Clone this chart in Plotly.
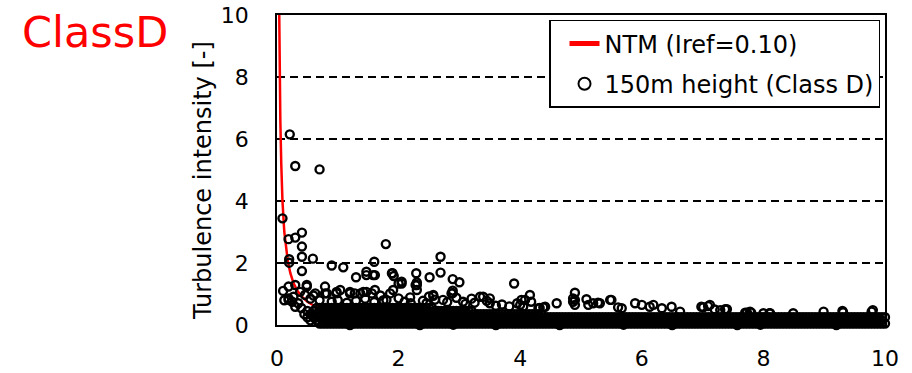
import plotly.graph_objects as go

# ---------------- data ----------------
# NTM curve (red line)
ntm_speed = [0.037, 0.045, 0.055, 0.07, 0.09, 0.12, 0.15, 0.18, 0.22, 0.27, 0.33, 0.4, 0.5, 0.6, 0.75,
             1.0, 1.3, 1.7, 2.2, 3.0, 4.0, 5.0, 6.0, 7.0, 8.0, 9.0, 10.0]
ntm_ti = [10.0, 8.0, 6.6, 5.2, 4.0, 3.0, 2.43, 2.03, 1.67, 1.36, 1.12, 0.93, 0.75, 0.63, 0.51,
          0.39, 0.31, 0.24, 0.19, 0.15, 0.12, 0.10, 0.09, 0.08, 0.075, 0.07, 0.066]

# individually visible measurement points
outlier_speed = [0.21, 0.30, 0.70, 0.09, 0.19, 0.30, 0.41, 0.41, 0.41, 0.20, 0.20, 0.59, 0.41, 0.90, 1.09,
                 1.79, 1.60, 1.47, 1.58, 1.30, 1.90, 1.92, 2.00, 2.29, 2.30, 2.30, 2.51, 2.69, 2.69, 2.89,
                 3.00, 2.89, 2.89, 3.90, 3.39, 3.50, 2.57, 2.19, 1.80, 1.47, 1.37, 1.20, 0.98, 0.79, 0.49,
                 0.19, 0.19, 0.30, 0.27, 0.38, 0.82, 4.16, 4.08, 4.90, 4.87, 4.87, 5.09, 5.28, 5.12, 5.48,
                 5.89, 6.19, 6.49, 7.01, 7.12, 4.60, 4.38, 4.32, 5.61, 7.20, 2.30, 2.57, 2.87, 4.02, 7.37,
                 7.73, 8.00, 7.78, 8.11, 8.49, 8.99, 9.30, 9.80, 0.19, 0.30, 0.49, 0.46, 0.63, 0.79, 0.98,
                 1.04, 1.20, 1.28, 1.42, 1.56, 1.61, 1.86, 1.91, 2.00, 1.47, 1.61, 1.89, 2.05, 0.10, 0.12,
                 2.05, 2.28, 3.34, 3.50, 3.82, 4.00, 4.18, 3.06, 2.73, 2.46, 4.30, 4.41, 4.90, 4.90, 5.20,
                 5.31, 5.50, 5.67, 6.00, 6.13, 6.33, 6.63, 6.98, 7.09, 7.29, 7.40, 7.70, 7.80, 8.10, 9.31,
                 9.78,
                 0.90, 1.00, 1.15, 1.30, 1.45, 1.60, 1.75, 2.10, 2.20, 2.40, 2.60, 2.80, 3.10, 3.25, 3.60,
                 3.70, 4.05, 0.55, 0.60, 0.70, 0.35, 0.40, 0.25, 3.20, 3.45, 3.95, 2.95, 2.50, 1.70]
outlier_ti = [6.15, 5.13, 5.02, 3.44, 2.77, 2.82, 2.98, 2.53, 2.20, 2.12, 2.01, 2.14, 1.74, 1.92, 1.86,
              2.61, 2.04, 1.72, 1.61, 1.54, 1.67, 1.58, 1.34, 1.67, 1.37, 1.13, 1.54, 2.20, 1.69, 1.48,
              1.38, 1.11, 1.03, 1.34, 0.91, 0.86, 0.94, 0.89, 0.81, 1.07, 1.02, 1.02, 1.02, 1.24, 1.24,
              1.24, 0.86, 0.59, 0.91, 1.07, 1.02, 0.97, 0.81, 1.04, 0.86, 0.75, 0.83, 0.72, 0.65, 0.81,
              0.70, 0.65, 0.59, 0.57, 0.65, 0.70, 0.57, 0.55, 0.57, 0.50, 1.29, 0.97, 1.02, 0.81, 0.51,
              0.40, 0.38, 0.43, 0.38, 0.38, 0.43, 0.45, 0.48, 0.81, 1.29, 1.29, 0.97, 1.02, 1.02, 1.07,
              1.13, 1.07, 1.02, 1.07, 1.02, 1.13, 1.02, 1.13, 0.86, 1.61, 1.61, 1.67, 1.40, 1.10, 0.80,
              1.34, 1.29, 0.91, 0.70, 0.60, 0.65, 0.75, 0.75, 0.81, 0.70, 0.54, 0.59, 0.81, 0.65, 0.70,
              0.70, 0.81, 0.54, 0.65, 0.59, 0.54, 0.43, 0.59, 0.61, 0.48, 0.51, 0.40, 0.40, 0.38, 0.41,
              0.43,
              0.75, 0.80, 0.72, 0.78, 0.85, 0.74, 0.80, 0.75, 0.70, 0.78, 0.82, 0.74, 0.68, 0.72, 0.62,
              0.66, 0.60, 0.85, 0.95, 0.80, 0.70, 0.55, 0.75, 0.85, 0.78, 0.70, 0.88, 0.92, 0.95]

# points lying just on the axis (bumps below the dense band)
bottom_speed = [1.2, 2.35, 2.9, 3.6, 4.65, 5.7, 6.5, 7.57, 7.95, 9.2]
bottom_ti = [0.0, 0.0, 0.01, 0.0, 0.0, 0.01, 0.0, 0.0, 0.01, 0.0]

# dense band: measured points packed in rows (level -> speeds)
band_levels = [0.05, 0.05, 0.15, 0.25, 0.25, 0.35, 0.35, 0.45, 0.45, 0.55, 0.55]
band_row_speed = [
    [0.7, 0.8, 0.9, 1.0, 1.1, 1.2, 1.3, 1.4, 1.5, 1.6, 1.7, 1.8, 1.9, 2.0, 2.1, 2.2, 2.3, 2.4, 2.5, 2.6,
     2.7, 2.8, 2.9, 3.0, 3.1, 3.2, 3.3, 3.4, 3.5, 3.6, 3.7, 3.8, 3.9, 4.0, 4.1, 4.2, 4.3, 4.4, 4.5, 4.6,
     4.7, 4.8, 4.9, 5.0, 5.1, 5.2, 5.3, 5.4, 5.5, 5.6, 5.7, 5.8, 5.9, 6.0, 6.1, 6.2, 6.3, 6.4, 6.5, 6.6,
     6.7, 6.8, 6.9, 7.0, 7.1, 7.2, 7.3, 7.4, 7.5, 7.6, 7.7, 7.8, 7.9, 8.0, 8.1, 8.2, 8.3, 8.4, 8.5, 8.6,
     8.7, 8.8, 8.9, 9.0, 9.1, 9.2, 9.3, 9.4, 9.5, 9.6, 9.7, 9.8, 9.9, 10.0],
    [0.75, 0.85, 0.95, 1.05, 1.15, 1.25, 1.35, 1.45, 1.55, 1.65, 1.75, 1.85, 1.95, 2.05, 2.15,
     2.25, 2.35, 2.45, 2.55, 2.65, 2.75, 2.85, 2.95, 3.05, 3.15, 3.25, 3.35, 3.45, 3.55, 3.65, 3.75, 3.85,
     3.95, 4.05, 4.15, 4.25, 4.35, 4.45, 4.55, 4.65, 4.75, 4.85, 4.95, 5.05, 5.15, 5.25, 5.35, 5.45, 5.55,
     5.65, 5.75, 5.85, 5.95, 6.05, 6.15, 6.25, 6.35, 6.45, 6.55, 6.65, 6.75, 6.85, 6.95, 7.05, 7.15, 7.25,
     7.35, 7.45, 7.55, 7.65, 7.75, 7.85, 7.95, 8.05, 8.15, 8.25, 8.35, 8.45, 8.55, 8.65, 8.75, 8.85, 8.95,
     9.05, 9.15, 9.25, 9.35, 9.45, 9.55, 9.65, 9.75, 9.85, 9.95],
    [0.55, 0.65, 0.75, 0.85, 0.95, 1.05, 1.15, 1.25, 1.35, 1.45, 1.55, 1.65, 1.75, 1.85, 1.95, 2.05, 2.15,
     2.25, 2.35, 2.45, 2.55, 2.65, 2.75, 2.85, 2.95, 3.05, 3.15, 3.25, 3.35, 3.45, 3.55, 3.65, 3.75, 3.85,
     3.95, 4.05, 4.15, 4.25, 4.35, 4.45, 4.55, 4.65, 4.75, 4.85, 4.95, 5.05, 5.15, 5.25, 5.35, 5.45, 5.55,
     5.65, 5.75, 5.85, 5.95, 6.05, 6.15, 6.25, 6.35, 6.45, 6.55, 6.65, 6.75, 6.85, 6.95, 7.05, 7.15, 7.25,
     7.35, 7.45, 7.55, 7.65, 7.75, 7.85, 7.95, 8.05, 8.15, 8.25, 8.35, 8.45, 8.55, 8.65, 8.75, 8.85, 8.95,
     9.05, 9.15, 9.25, 9.35, 9.45, 9.55, 9.65, 9.75, 9.85, 9.95],
    [0.5, 0.6, 0.7, 0.8, 0.9, 1.0, 1.1, 1.2, 1.3, 1.4, 1.5, 1.6, 1.7, 1.8, 1.9, 2.0, 2.1, 2.2, 2.3, 2.4,
     2.5, 2.6, 2.7, 2.8, 2.9, 3.0, 3.1, 3.2, 3.3, 3.4, 3.5, 3.6, 3.7, 3.8, 3.9, 4.0, 4.1, 4.2, 4.3, 4.4,
     4.5, 4.6, 4.7, 4.8, 4.9, 5.0, 5.1, 5.2, 5.3, 5.4, 5.5, 5.6, 5.7, 5.8, 5.9, 6.0, 6.1, 6.2, 6.3, 6.4,
     6.5, 6.6, 6.7, 6.8, 6.9, 7.0, 7.1, 7.2, 7.3, 7.4, 7.5, 7.6, 7.7, 7.8, 7.9, 8.0, 8.1, 8.2, 8.3, 8.4,
     8.5, 8.6, 8.7, 8.8, 8.9, 9.0, 9.1, 9.2, 9.3, 9.4, 9.5, 9.6, 9.7, 9.8, 9.9, 10.0],
    [4.45, 4.55, 4.65, 4.75, 4.85, 4.95, 5.05, 5.15, 5.25, 5.35, 5.45, 5.55, 5.65, 5.75, 5.85, 5.95, 6.05,
     6.15, 6.25, 6.35, 6.45, 6.55, 6.65, 6.75, 6.85, 6.95, 7.05, 7.15, 7.25, 7.35, 7.45, 7.55, 7.65, 7.75,
     7.85, 7.95, 8.05, 8.15, 8.25, 8.35, 8.45, 8.55, 8.65, 8.75, 8.85, 8.95, 9.05, 9.15, 9.25, 9.35, 9.45,
     9.55, 9.65, 9.75, 9.85, 9.95],
    [0.45, 0.55, 0.65, 0.75, 0.85, 0.95, 1.05, 1.15, 1.25, 1.35, 1.45, 1.55, 1.65, 1.75, 1.85, 1.95, 2.05,
     2.15, 2.25, 2.35, 2.45, 2.55, 2.65, 2.75, 2.85, 2.95, 3.05, 3.15, 3.25, 3.35, 3.45, 3.55, 3.65, 3.75,
     3.85, 3.95, 4.05, 4.15, 4.25, 4.35],
    [3.3, 3.4, 3.5, 3.6, 3.7, 3.8, 3.9, 4.0, 4.1, 4.2, 4.3],
    [0.5, 0.6, 0.7, 0.8, 0.9, 1.0, 1.1, 1.2, 1.3, 1.4, 1.5, 1.6, 1.7, 1.8, 1.9, 2.0, 2.1, 2.2, 2.3, 2.4,
     2.5, 2.6, 2.7, 2.8, 2.9, 3.0, 3.1, 3.2],
    [2.65, 2.75, 2.85, 2.95, 3.05, 3.15],
    [0.65, 0.75, 0.85, 0.95, 1.05, 1.15, 1.25, 1.35, 1.45, 1.55, 1.65, 1.75, 1.85, 1.95, 2.05, 2.15, 2.25,
     2.35, 2.45, 2.55],
    [0.7, 0.8, 0.9, 1.0, 1.1, 1.2, 1.3, 1.4, 1.5, 1.6, 1.7, 1.8, 1.9, 2.0, 2.1, 2.2, 2.3, 2.4, 2.5],
]

x_ticks = [0, 2, 4, 6, 8, 10]
y_ticks = [0, 2, 4, 6, 8, 10]

# ---------------- assemble ----------------
band_speed = [v for row in band_row_speed for v in row]
band_ti = [lvl for lvl, row in zip(band_levels, band_row_speed) for _ in row]
meas_speed = band_speed + bottom_speed + outlier_speed
meas_ti = band_ti + bottom_ti + outlier_ti

FONT = "DejaVu Sans"

fig = go.Figure()
fig.add_trace(go.Scatter(
    x=ntm_speed, y=ntm_ti, mode="lines", name="NTM (Iref=0.10)",
    line=dict(color="#FF0000", width=2.5), legendgroup="ntm",
))
fig.add_trace(go.Scatter(
    x=meas_speed, y=meas_ti, mode="markers", name="150m height (Class D)",
    marker=dict(symbol="circle-open", size=8, color="black", line=dict(width=2.4, color="black")),
    cliponaxis=False, legendgroup="meas",
))

fig.update_layout(
    width=912, height=373,
    margin=dict(l=277, r=27, t=15, b=48, autoexpand=False),
    paper_bgcolor="white", plot_bgcolor="white",
    font=dict(family=FONT, size=22, color="black"),
    showlegend=True,
    legend=dict(
        x=0.9918, y=0.984, xanchor="right", yanchor="top",
        bgcolor="white", bordercolor="black", borderwidth=1.5,
        font=dict(family=FONT, size=24, color="black"),
        tracegroupgap=6, itemsizing="constant", indentation=14,
    ),
    annotations=[
        dict(text="ClassD", xref="paper", yref="paper", x=-0.4227, y=0.945,
             xanchor="left", yanchor="middle", showarrow=False,
             font=dict(family=FONT, size=43, color="#FF0000")),
        dict(text="Turbulence intensity [-]", xref="paper", yref="paper",
             x=-0.1217, y=0.4645, xanchor="center", yanchor="middle", textangle=-90,
             showarrow=False, font=dict(family=FONT, size=24, color="black")),
    ],
)
fig.update_xaxes(
    range=[0, 10], tickvals=x_ticks, ticktext=[str(t) for t in x_ticks],
    showgrid=False, zeroline=False, showline=True, linecolor="black", linewidth=1.5,
    mirror=True, ticks="", ticklabelstandoff=13, automargin=False,
    tickfont=dict(family=FONT, size=22, color="black"),
)
fig.update_yaxes(
    range=[0, 10], tickvals=y_ticks, ticktext=[str(t) for t in y_ticks],
    showgrid=True, gridcolor="black", gridwidth=1.5, griddash="8px,5px",
    zeroline=False, showline=True, linecolor="black", linewidth=1.5,
    mirror=True, ticks="", ticklabelstandoff=22, automargin=False,
    tickfont=dict(family=FONT, size=22, color="black"),
)

fig.write_html("out.html", config={"displayModeBar": False},
               post_script="document.body.style.margin='0';")
